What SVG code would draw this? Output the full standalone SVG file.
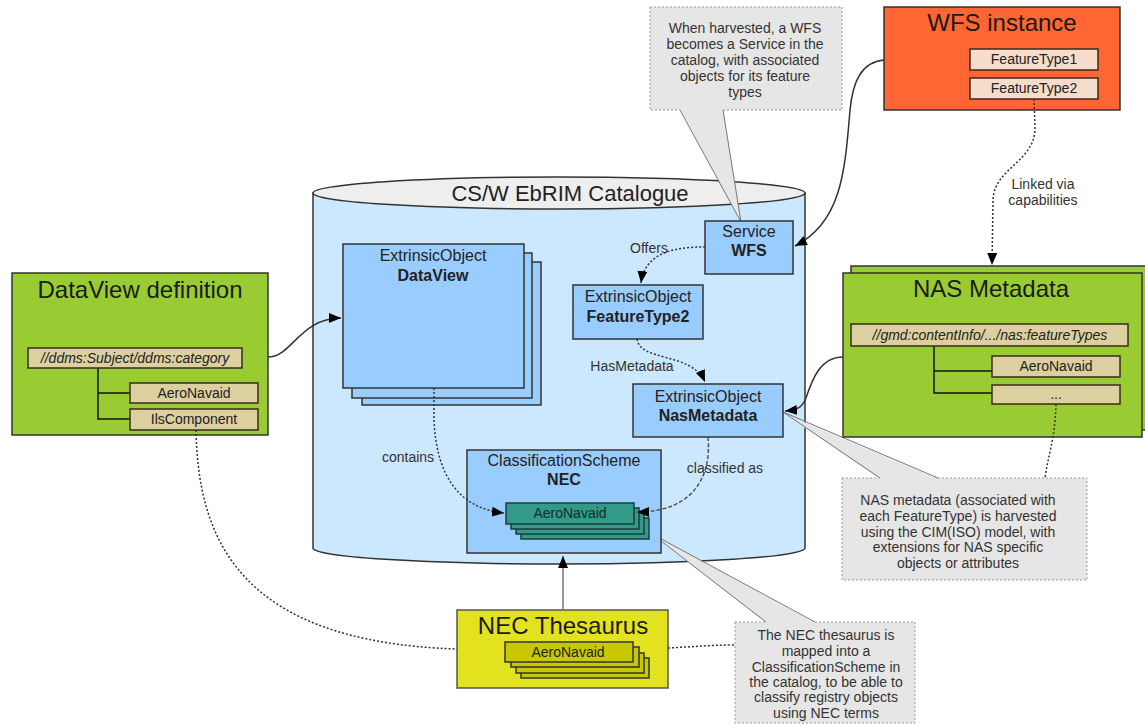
<svg xmlns="http://www.w3.org/2000/svg" width="1145" height="725" viewBox="0 0 1145 725">
<defs>
<marker id="ah" markerWidth="12" markerHeight="10" refX="12" refY="5" orient="auto" markerUnits="userSpaceOnUse">
<path d="M0,0 L12,5 L0,10 z" fill="#000"/>
</marker>
<style>
text{font-family:"Liberation Sans",Arial,sans-serif;fill:#222}
.t24{font-size:24px;text-anchor:middle;fill:#1a1a1a}
.t16{font-size:16px;text-anchor:middle}
.b{font-weight:bold}
.t14{font-size:14px;text-anchor:middle}
.lbl{font-size:14px;text-anchor:middle;fill:#333}
.note{font-size:14px;text-anchor:middle;fill:#333}
.it{font-style:italic}
.blue{fill:#99ccff;stroke:#333;stroke-width:1.5}
.green{fill:#99cc33;stroke:#333;stroke-width:1.5}
.tan{fill:#dccfa0;stroke:#3a2a1a;stroke-width:1.5}
.peach{fill:#f5dccb;stroke:#3a2a1a;stroke-width:1.5}
.teal{fill:#339988;stroke:#1d3d38;stroke-width:1.5}
.olive{fill:#c8c800;stroke:#333;stroke-width:1.5}
.callout{fill:#e6e6e6;stroke:#999;stroke-width:1;stroke-dasharray:2,2}
.wedge{fill:#e6e6e6;stroke:none}
.wline{fill:none;stroke:#777;stroke-width:1}
.tree{fill:none;stroke:#111;stroke-width:1.5}
.solid{fill:none;stroke:#333;stroke-width:1.5}
.dot{fill:none;stroke:#333;stroke-width:1.5;stroke-dasharray:2,2}
.dash{fill:none;stroke:#555;stroke-width:1.5;stroke-dasharray:4,2}
</style>
</defs>

<g id="catalogue">
<path d="M313,193 L313,548 A246,16 0 0 0 805,548 L805,193 Z" fill="#cce8ff" stroke="#333" stroke-width="1.5"/>
<ellipse cx="559" cy="193" rx="246" ry="16" fill="#eeeeee" stroke="#333" stroke-width="1.5"/>
<text x="570" y="201" style="font-size:22px;text-anchor:middle;fill:#222">CS/W EbRIM Catalogue</text>
</g>

<g id="callout-wfs">
<rect class="callout" x="650" y="7" width="192" height="103"/>
<polygon class="wedge" points="680,109 723,109 741,222"/>
<polyline class="wline" points="680,110 741,222 723,110"/>
<text class="note" x="745" y="33">When harvested, a WFS</text>
<text class="note" x="745" y="49">becomes a Service in the</text>
<text class="note" x="745" y="65">catalog, with associated</text>
<text class="note" x="745" y="81">objects for its feature</text>
<text class="note" x="745" y="97">types</text>
</g>

<g id="callout-nas">
<rect class="callout" x="842" y="478" width="245" height="102"/>
<polygon class="wedge" points="880,479 938,479 783,413"/>
<polyline class="wline" points="880,478 783,412 938,478"/>
<text class="note" x="958" y="505">NAS metadata (associated with</text>
<text class="note" x="958" y="521">each FeatureType) is harvested</text>
<text class="note" x="958" y="537">using the CIM(ISO) model, with</text>
<text class="note" x="958" y="552">extensions for NAS specific</text>
<text class="note" x="958" y="568">objects or attributes</text>
</g>

<g id="callout-nec">
<rect class="callout" x="735" y="622" width="180" height="101"/>
<polygon class="wedge" points="766,623 815,623 652,534"/>
<polyline class="wline" points="766,622 652,534 815,622"/>
<text class="note" x="826" y="640">The NEC thesaurus is</text>
<text class="note" x="826" y="656">mapped into a</text>
<text class="note" x="826" y="672">ClassificationScheme in</text>
<text class="note" x="826" y="687">the catalog, to be able to</text>
<text class="note" x="826" y="702">classify registry objects</text>
<text class="note" x="826" y="718">using NEC terms</text>
</g>

<g id="wfs-instance">
<rect x="884" y="7" width="236" height="103" fill="#ff6633" stroke="#333" stroke-width="1.5"/>
<text class="t24" x="1002" y="31">WFS instance</text>
<rect class="peach" x="970" y="49" width="128" height="21"/>
<text class="t14" x="1034" y="64">FeatureType1</text>
<rect class="peach" x="970" y="78" width="128" height="21"/>
<text class="t14" x="1034" y="93">FeatureType2</text>
</g>

<g id="dataview-definition">
<rect class="green" x="12" y="273" width="256" height="162"/>
<text class="t24" x="140" y="298">DataView definition</text>
<path class="tree" d="M98,368 L98,419 L130,419 M98,393 L130,393"/>
<rect class="tan" x="28" y="348" width="214" height="20"/>
<text class="t14 it" x="135" y="363">//ddms:Subject/ddms:category</text>
<rect class="tan" x="130" y="383" width="128" height="20"/>
<text class="t14" x="194" y="398">AeroNavaid</text>
<rect class="tan" x="130" y="409" width="128" height="21"/>
<text class="t14" x="194" y="424">IlsComponent</text>
</g>

<g id="nas-metadata">
<rect class="green" x="851" y="266" width="300" height="164"/>
<rect class="green" x="843" y="273" width="299" height="164"/>
<text class="t24" x="991" y="297">NAS Metadata</text>
<path class="tree" d="M934,346 L934,393 L992,393 M934,371 L992,371"/>
<rect class="tan" x="851" y="324" width="277" height="22"/>
<text class="t14 it" x="990" y="340">//gmd:contentInfo/.../nas:featureTypes</text>
<rect class="tan" x="992" y="356" width="128" height="21"/>
<text class="t14" x="1056" y="371">AeroNavaid</text>
<rect class="tan" x="992" y="385" width="128" height="19"/>
<text class="t14" x="1056" y="399">...</text>
</g>

<g id="dataview">
<rect class="blue" x="362" y="262" width="179" height="143"/>
<rect class="blue" x="352" y="253" width="180" height="145"/>
<rect class="blue" x="343" y="244" width="181" height="144"/>
<text class="t16" x="433" y="261">ExtrinsicObject</text>
<text class="t16 b" x="433" y="281">DataView</text>
</g>

<g id="service-wfs">
<rect class="blue" x="705" y="221" width="88" height="53"/>
<text class="t16" x="749" y="237">Service</text>
<text class="t16 b" x="749" y="256">WFS</text>
</g>

<g id="featuretype2">
<rect class="blue" x="573" y="285" width="130" height="54"/>
<text class="t16" x="638" y="302">ExtrinsicObject</text>
<text class="t16 b" x="638" y="322">FeatureType2</text>
</g>

<g id="nasmetadata">
<rect class="blue" x="633" y="384" width="150" height="53"/>
<text class="t16" x="708" y="402">ExtrinsicObject</text>
<text class="t16 b" x="708" y="421">NasMetadata</text>
</g>

<g id="classification-scheme">
<rect class="blue" x="467" y="450" width="194" height="103"/>
<text class="t16" x="564" y="466">ClassificationScheme</text>
<text class="t16 b" x="564" y="485">NEC</text>
<rect class="teal" x="521" y="518" width="128" height="21"/>
<rect class="teal" x="516" y="513" width="128" height="21"/>
<rect class="teal" x="511" y="508" width="128" height="21"/>
<rect class="teal" x="506" y="503" width="128" height="21"/>
<text class="t14" x="570" y="518" style="fill:#1a2a28">AeroNavaid</text>
</g>

<g id="nec-thesaurus">
<rect x="457" y="610" width="211" height="78" fill="#e2e21e" stroke="#555" stroke-width="1.5"/>
<text class="t24" x="563" y="634">NEC Thesaurus</text>
<rect class="olive" x="521" y="658" width="128" height="20"/>
<rect class="olive" x="516" y="653" width="128" height="20"/>
<rect class="olive" x="511" y="647" width="128" height="20"/>
<rect class="olive" x="505" y="642" width="128" height="20"/>
<text class="t14" x="568" y="657">AeroNavaid</text>
</g>

<g id="connectors">
<path class="solid" d="M268,357 C292,357 300,318 341,318" marker-end="url(#ah)"/>
<path class="solid" d="M884,60 C862,62 853,80 850,110 C845,170 842,222 795,246" marker-end="url(#ah)"/>
<path class="dot" d="M1034,99 L1035,128 C1035,162 994,168 993,200 L992,265" marker-end="url(#ah)"/>
<path class="dot" d="M705,247 C680,247 645,250 641,283" marker-end="url(#ah)"/>
<path class="dot" d="M637,339 C640,362 692,352 705,382" marker-end="url(#ah)"/>
<path class="dot" d="M434,388 L434,420 C436,470 455,508 504,513" marker-end="url(#ah)"/>
<path class="dash" d="M708,437 C712,480 690,512 637,512" marker-end="url(#ah)"/>
<path class="solid" d="M843,357 C820,357 812,380 806,398 C802,408 797,410 785,411" marker-end="url(#ah)"/>
<path class="dot" d="M196,430 C198,540 240,642 457,649"/>
<path d="M563,610 L563,556" fill="none" stroke="#777" stroke-width="1.5" marker-end="url(#ah)"/>
<path class="dot" d="M668,648 C690,647 710,645 735,645"/>
<path class="dot" d="M1056,404 C1055,440 1048,455 1045,478"/>
<text class="lbl" x="649" y="253">Offers</text>
<text class="lbl" x="632" y="371">HasMetadata</text>
<text class="lbl" x="408" y="462">contains</text>
<text class="lbl" x="725" y="473">classified as</text>
<text class="lbl" x="1043" y="189">Linked via</text>
<text class="lbl" x="1043" y="205">capabilities</text>
</g>
</svg>
